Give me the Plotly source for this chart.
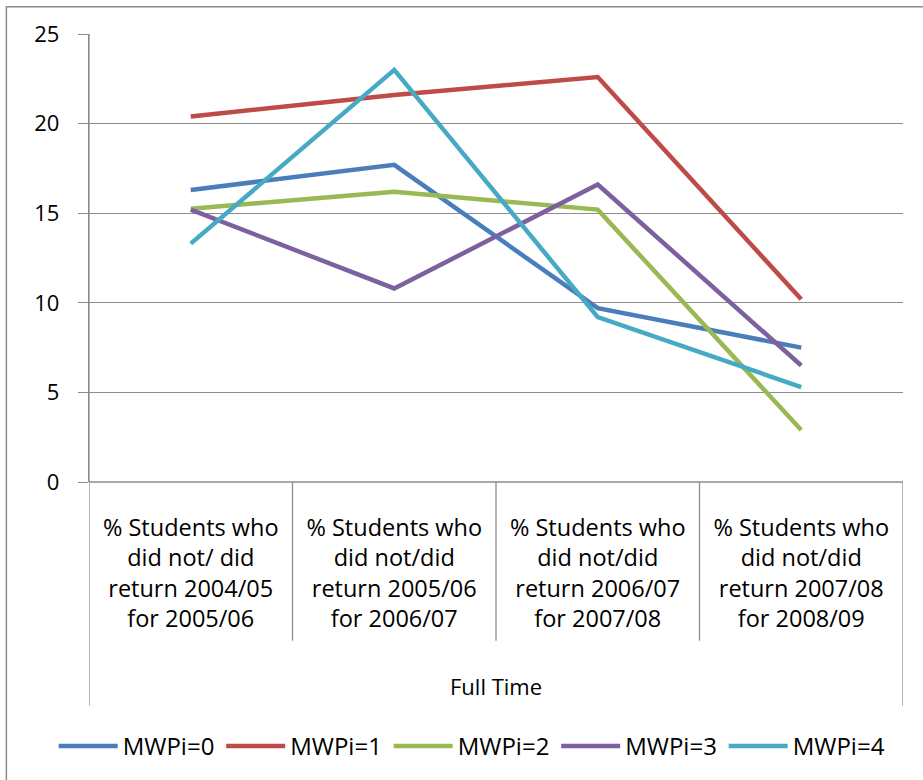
import plotly.graph_objects as go

categories = [
    "% Students who<br>did not/ did<br>return 2004/05<br>for 2005/06",
    "% Students who<br>did not/did<br>return 2005/06<br>for 2006/07",
    "% Students who<br>did not/did<br>return 2006/07<br>for 2007/08",
    "% Students who<br>did not/did<br>return 2007/08<br>for 2008/09",
]
group_label = "Full Time"
series_names = ["MWPi=0", "MWPi=1", "MWPi=2", "MWPi=3", "MWPi=4"]
mwpi0 = [16.3, 17.7, 9.7, 7.5]
mwpi1 = [20.4, 21.6, 22.6, 10.2]
mwpi2 = [15.25, 16.2, 15.2, 2.9]
mwpi3 = [15.2, 10.8, 16.6, 6.5]
mwpi4 = [13.3, 23.0, 9.2, 5.3]
series_values = [mwpi0, mwpi1, mwpi2, mwpi3, mwpi4]
colors = ["#4A7EBB", "#BE4B48", "#98B954", "#7D60A0", "#46AAC5"]
y_ticks = [0, 5, 10, 15, 20, 25]

FONT = "Open Sans"
GRID = "#8C8C8C"

W, H = 923, 780
L, R, T, B = 89.3, 903.0, 34.0, 482.7
ph = B - T

def py(pix):
    return (B - pix) / ph

def px(pix):
    return (pix - L) / (R - L)

fig = go.Figure()
xs = list(range(len(categories)))
for name, vals, col in zip(series_names, series_values, colors):
    fig.add_trace(go.Scatter(
        x=xs, y=vals, name=name, mode="lines",
        line=dict(color=col, width=4.5),
    ))

fig.update_layout(
    width=W, height=H,
    margin=dict(l=L, r=W - R, t=T, b=H - B, pad=0),
    paper_bgcolor="white", plot_bgcolor="white",
    font=dict(family=FONT, size=22, color="black"),
    showlegend=True,
    legend=dict(
        orientation="h", x=px(54), y=py(746), xanchor="left", yanchor="middle",
        font=dict(family=FONT, size=24, color="black"),
        itemwidth=59, entrywidth=93.5, entrywidthmode="pixels",
        bgcolor="rgba(0,0,0,0)", traceorder="normal",
    ),
)
fig.update_xaxes(
    range=[-0.5, len(categories) - 0.5],
    tickmode="array", tickvals=xs, ticktext=categories,
    showgrid=False, zeroline=False, showline=False,
    ticks="", ticklabelstandoff=29,
    tickfont=dict(family=FONT, size=23.5, color="black"),
    fixedrange=True,
)
fig.update_yaxes(
    range=[0, 25], tickmode="array", tickvals=y_ticks,
    showgrid=True, gridcolor=GRID, gridwidth=1.3,
    zeroline=False, showline=True, linecolor=GRID, linewidth=1.3,
    ticks="outside", ticklen=10, tickcolor=GRID, tickwidth=1.3,
    ticklabelstandoff=14,
    tickfont=dict(family=FONT, size=22, color="black"),
)

shapes = []
# outer chart border
shapes.append(dict(type="rect", xref="paper", yref="paper",
                   x0=px(6.7), x1=px(960), y0=py(820), y1=py(6.7),
                   line=dict(color=GRID, width=1.5), layer="below"))
# x axis line at y=0
shapes.append(dict(type="line", xref="paper", yref="paper",
                   x0=0, x1=1, y0=0, y1=0, line=dict(color=GRID, width=1.3)))
# outer vertical category-box lines
for xv in (-0.5, len(categories) - 0.5):
    shapes.append(dict(type="line", xref="x", yref="paper",
                       x0=xv, x1=xv, y0=py(706.7), y1=1 if xv < 0 else 0,
                       line=dict(color=GRID, width=1.3)))
# inner dividers
for i in range(1, len(categories)):
    xv = i - 0.5
    shapes.append(dict(type="line", xref="x", yref="paper",
                       x0=xv, x1=xv, y0=py(641.7), y1=0,
                       line=dict(color=GRID, width=1.3)))
fig.update_layout(shapes=shapes)

fig.add_annotation(
    x=(len(categories) - 1) / 2, xref="x", y=py(686.7), yref="paper",
    text=group_label, showarrow=False, xanchor="center", yanchor="middle",
    font=dict(family=FONT, size=22, color="black"),
)

fig.write_html(
    "out.html",
    config={"displayModeBar": False},
    post_script="document.body.style.margin='0px';document.body.style.overflow='hidden';",
)
